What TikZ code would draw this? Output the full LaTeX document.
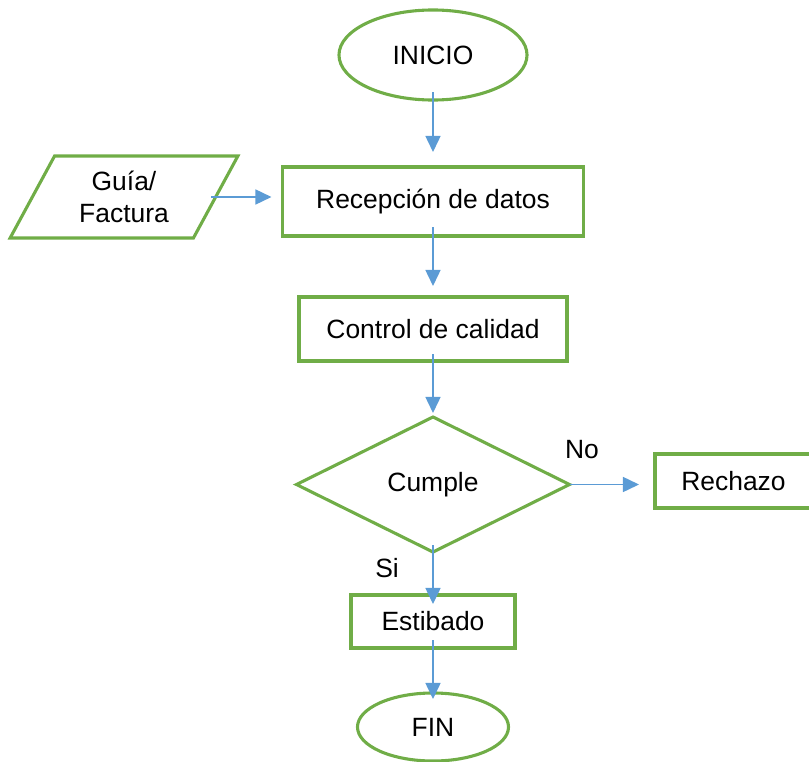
\documentclass[tikz,border=0pt]{standalone}
\usepackage{fontspec}
\setmainfont{Liberation Sans}
\usepackage{xcolor}
\usepackage{tikz}
\usetikzlibrary{shapes.geometric,arrows.meta,positioning}

\definecolor{flowgreen}{RGB}{112,173,71}
\definecolor{flowblue}{RGB}{91,155,213}

\begin{document}
\begin{tikzpicture}[x=0.025cm, y=-0.025cm,
    every node/.style={font=\fontsize{18.8pt}{22.8pt}\selectfont, inner sep=0pt, outer sep=0pt},
    box/.style={rectangle, draw=flowgreen, line width=2.2pt, align=center},
    term/.style={ellipse, draw=flowgreen, line width=2.2pt},
    io/.style={trapezium, trapezium left angle=61, trapezium right angle=119, trapezium stretches=true, draw=flowgreen, line width=2.2pt, align=center},
    decision/.style={diamond, draw=flowgreen, line width=2.2pt},
    arrow/.style={-{Triangle[length=0.4cm, width=0.375cm]}, draw=flowblue, line width=1.1pt}
]
\useasboundingbox (0,0) rectangle (809,762);

% Inicio
\node[term, minimum width=4.7cm, minimum height=2.25cm] (inicio) at (433,55) {INICIO};

% Entrada y recepcion
\node[io, minimum width=5.7cm, minimum height=2.05cm] (guia) at (124,197) {Guía/\\Factura};
\node[box, minimum width=7.525cm, minimum height=1.725cm] (recep) at (433,201.5) {Recepción de datos};
\node[box, minimum width=6.7cm, minimum height=1.6cm] (control) at (433,329) {Control de calidad};

% Decision
\node[decision, minimum width=6.825cm, minimum height=3.375cm] (cumple) at (433,484.5) {Cumple};
\node[box, minimum width=3.925cm, minimum height=1.35cm] (rechazo) at (733.5,481) {Rechazo};
\node (no) at (582,450) {No};
\node (si) at (387,568) {Si};

% Fin
\node[box, minimum width=4.1cm, minimum height=1.325cm] (estib) at (433,621.5) {Estibado};
\node[term, minimum width=3.775cm, minimum height=1.7cm] (fin) at (433,727) {FIN};

\draw[arrow, shorten <=-0.2cm, shorten >=0.375cm] (inicio) -- (recep);
\draw[arrow, shorten <=-0.11cm, shorten >=0.275cm] (guia.east) -- (guia.east -| recep.west);
\draw[arrow, shorten <=-0.225cm, shorten >=0.275cm] (recep) -- (control);
\draw[arrow, shorten <=-0.175cm, shorten >=0.1cm] (control) -- (cumple);
\draw[arrow, shorten >=0.4cm] (cumple.east) -- (cumple.east -| rechazo.west);
\draw[arrow, shorten <=-0.175cm, shorten >=-0.225cm] (cumple) -- (estib);
\draw[arrow, shorten <=-0.2cm, shorten >=-0.15cm] (estib) -- (fin);

\end{tikzpicture}
\end{document}
